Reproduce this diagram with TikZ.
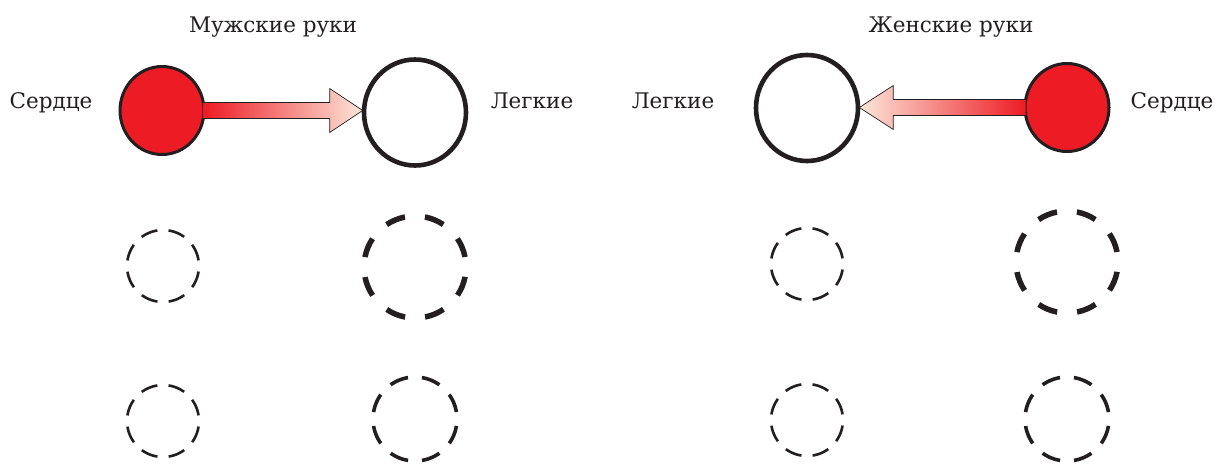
\documentclass[tikz,border=0pt]{standalone}
\usepackage{fontspec}
\setmainfont{DejaVu Serif}
\usetikzlibrary{shapes.geometric,calc}
\definecolor{heartred}{HTML}{ED1C24}
\definecolor{ink}{HTML}{231F20}
\definecolor{palepink}{HTML}{FDE6DA}
\tikzset{
  lbl/.style={text=ink, font=\fontsize{21.5}{24}\selectfont, inner sep=0pt, anchor=base},
  heart/.style={ellipse, draw=ink, fill=heartred, line width=3pt, minimum width=84pt, minimum height=88pt, inner sep=0pt},
  lung/.style={ellipse, draw=ink, fill=white, line width=4.6pt, minimum width=102pt, minimum height=106pt, inner sep=0pt},
  smalldash/.style={circle, draw=ink, line width=2.6pt, minimum size=72pt, inner sep=0pt, dash pattern=on 17pt off 11.27pt, dash phase=22.6pt},
  bigdash/.style={circle, draw=ink, line width=5.5pt, minimum size=102pt, inner sep=0pt, dash pattern=on 20pt off 20.06pt, dash phase=30pt},
  meddash/.style={circle, draw=ink, line width=3.6pt, minimum size=84pt, inner sep=0pt, dash pattern=on 19pt off 13.99pt, dash phase=26pt},
  flowarrow/.style={draw=ink, line width=0.7pt, line join=miter},
}
\begin{document}
\begin{tikzpicture}[x=1pt,y=-1pt]
\useasboundingbox (0,0) rectangle (1215,464);
% ---- left group
\node[lbl] (tl) at (273,32) {Мужские руки};
\node[heart] (h1) at (162,110.5) {};
\node[lung] (l1) at (415,112.5) {};
\node[lbl] (sl1) at (51,108) {Сердце};
\node[lbl] (ll1) at (532,108) {Легкие};
\path[flowarrow, left color=heartred, right color=palepink]
  let \p1=(h1.east), \p2=(l1.west) in
  (\x1-2,\y1-8) -- (\x2-32,\y1-8) -- (\x2-32,\y1-22) -- (\x2+1,\y1) -- (\x2-32,\y1+22) -- (\x2-32,\y1+8) -- (\x1-2,\y1+8);
\node[smalldash] (a1) at (163,266) {};
\node[bigdash] (b1) at (415,267) {};
\node[smalldash] (c1) at (163,421) {};
\node[meddash] (d1) at (415,419) {};
% ---- right group
\node[lbl] (tr) at (951,32) {Женские руки};
\node[heart] (h2) at (1067,107.5) {};
\node[lung] (l2) at (807,108) {};
\node[lbl] (sl2) at (1172,108) {Сердце};
\node[lbl] (ll2) at (673,108) {Легкие};
\path[flowarrow, right color=heartred, left color=palepink]
  let \p1=(h2.west), \p2=(l2.east) in
  (\x1+2,\y1-8) -- (\x2+33,\y1-8) -- (\x2+33,\y1-22) -- (\x2-1,\y1) -- (\x2+33,\y1+22) -- (\x2+33,\y1+8) -- (\x1+2,\y1+8);
\node[smalldash] (a2) at (807,264) {};
\node[bigdash] (b2) at (1067,262) {};
\node[smalldash] (c2) at (807,420) {};
\node[meddash] (d2) at (1067,419) {};
\end{tikzpicture}
\end{document}
